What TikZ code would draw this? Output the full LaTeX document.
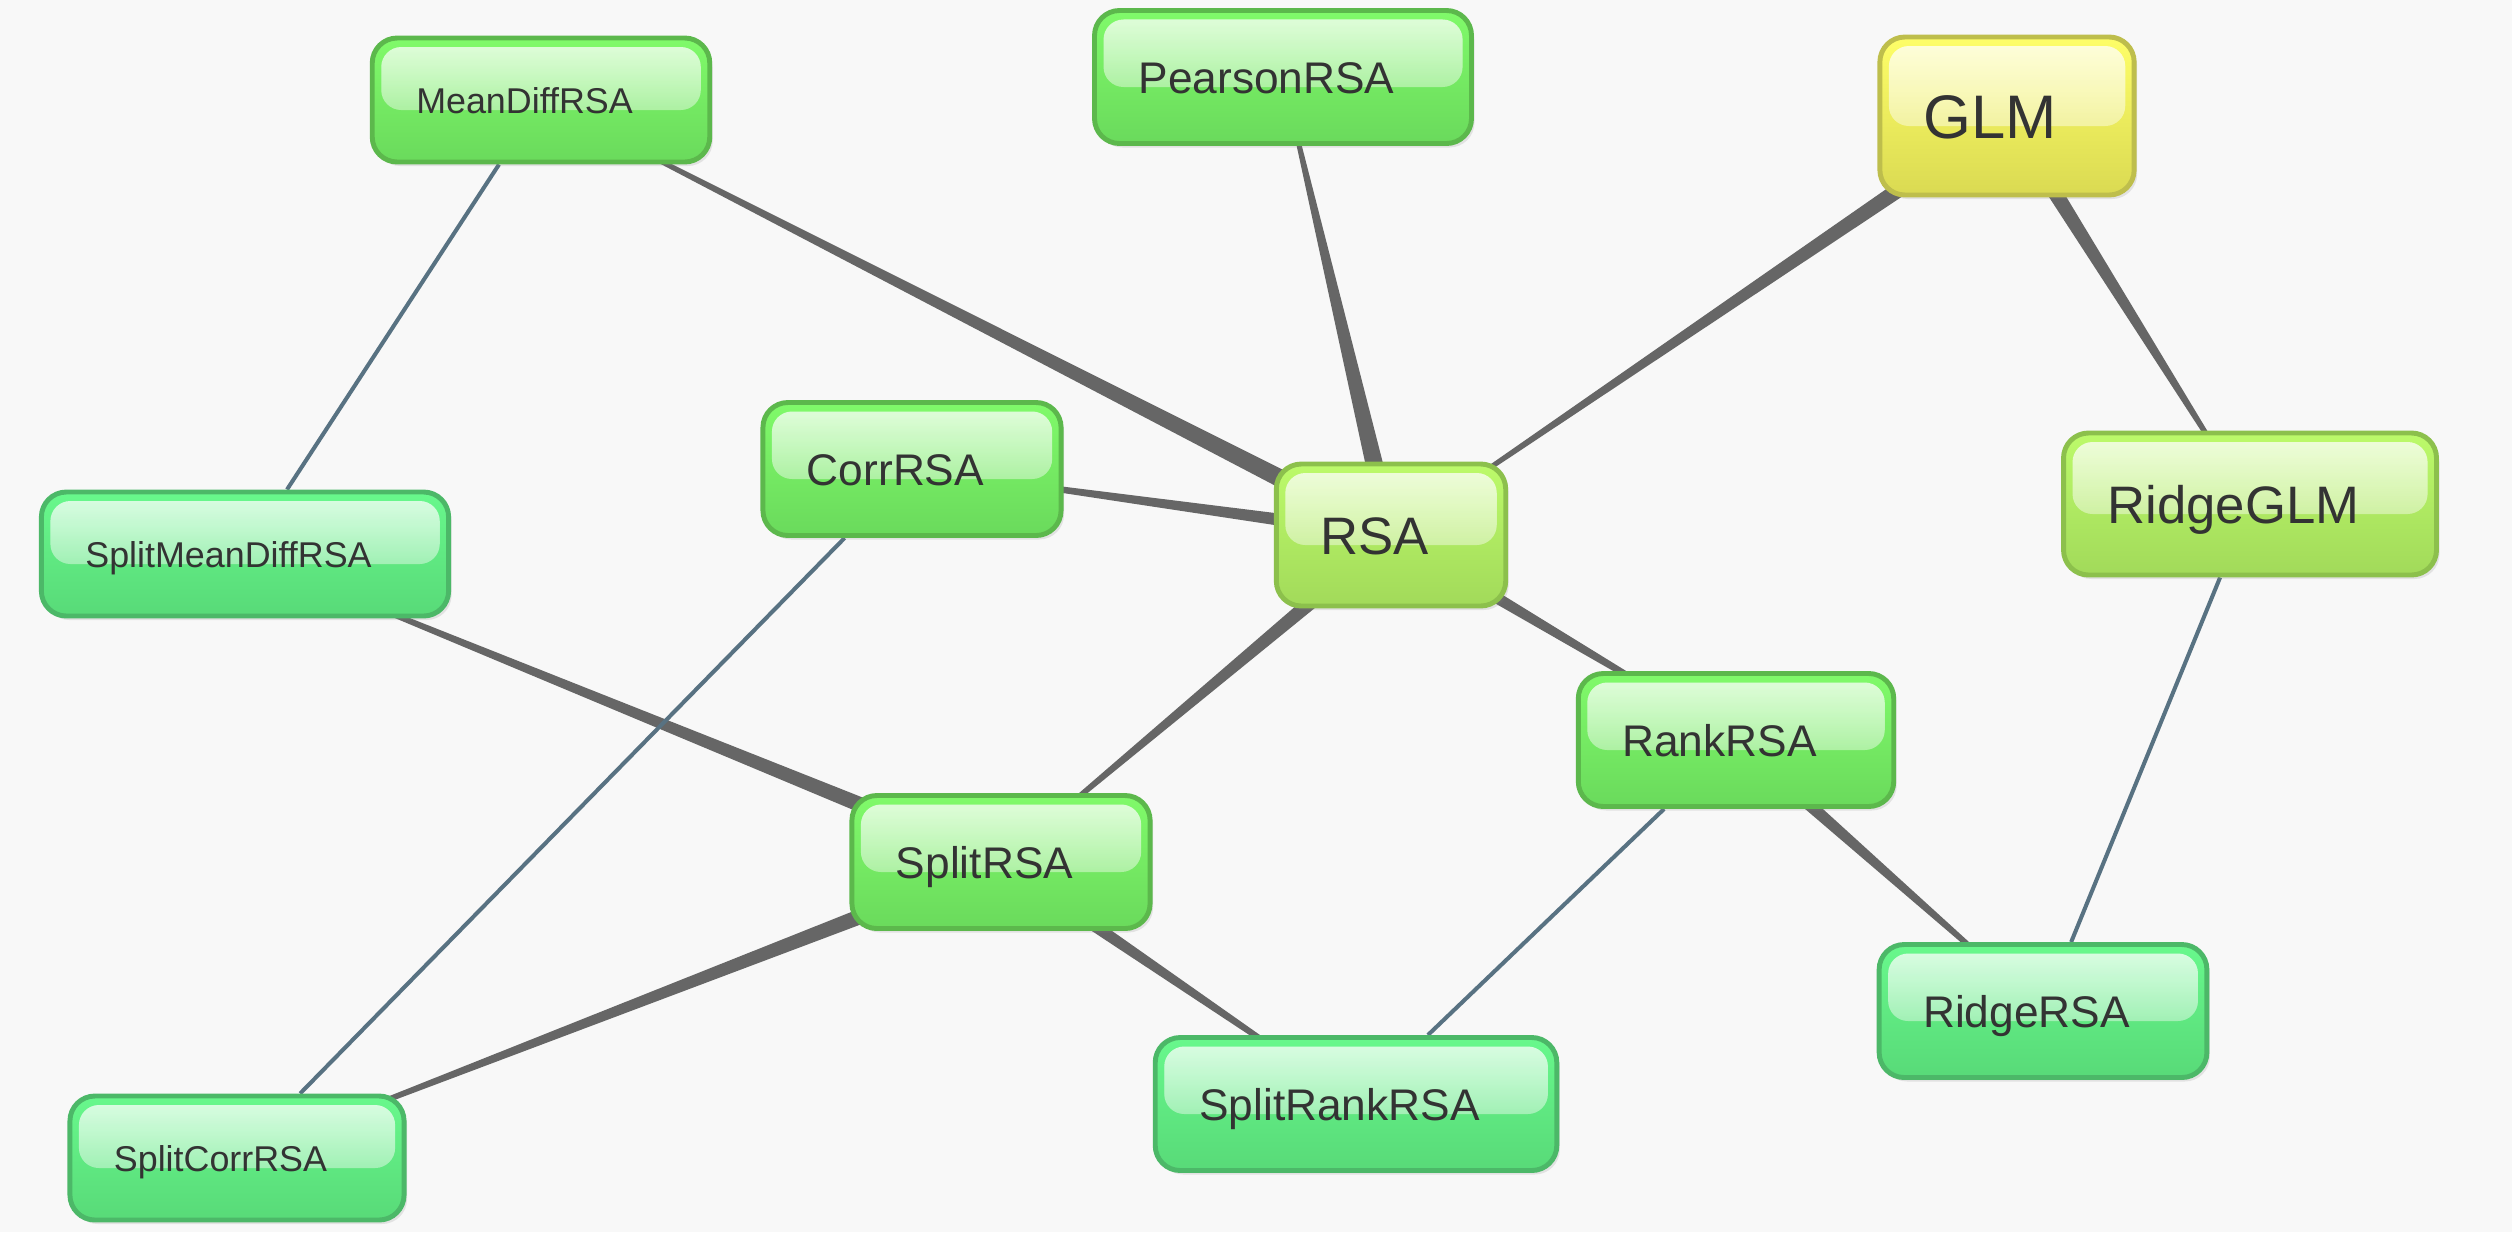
\documentclass[tikz,border=0pt]{standalone}
\usepackage{fontspec}
\setmainfont{Liberation Sans}
\usetikzlibrary{calc,shadows,fadings}
\pgfdeclarelayer{background}
\pgfsetlayers{background,main}
\definecolor{edgegray}{RGB}{102,102,102}
\definecolor{edgeblue}{RGB}{88,114,130}
\definecolor{txt}{RGB}{51,51,51}
\definecolor{paper}{RGB}{248,248,248}
\definecolor{grnline}{RGB}{92,184,76}
\definecolor{grnbody}{RGB}{128,250,106}
\definecolor{grnbot}{RGB}{106,218,92}
\definecolor{tealline}{RGB}{76,184,104}
\definecolor{tealbody}{RGB}{104,248,140}
\definecolor{tealbot}{RGB}{88,218,120}
\definecolor{limeline}{RGB}{140,192,76}
\definecolor{limebody}{RGB}{188,250,106}
\definecolor{limebot}{RGB}{162,218,90}
\definecolor{yelline}{RGB}{190,190,76}
\definecolor{yelbody}{RGB}{254,254,104}
\definecolor{yelbot}{RGB}{218,218,82}

\newcommand\taper[3]{% thin end, thick end, half width
  \fill[edgegray] ($(#1.center)!0.012cm!-90:(#2.center)$) -- ($(#2.center)!#3!90:(#1.center)$)
    -- ($(#2.center)!#3!-90:(#1.center)$) -- ($(#1.center)!0.012cm!90:(#2.center)$) -- cycle;}

\tikzset{
  pill/.style n args={3}{draw=#1, line width=1.4pt, rounded corners=0.25cm,
    top color=#2, bottom color=#3, text=txt, align=left,
    inner xsep=0.44cm, inner ysep=0pt, text depth=0pt,
    execute at end node={\hspace*{0.33cm}},
    drop shadow={opacity=0.18, shadow xshift=0.03cm, shadow yshift=-0.04cm},
    path picture={
      \fill[rounded corners=0.2cm, white, fill opacity=0.75, path fading=south]
        ($(path picture bounding box.north west)+(0.09,-0.09)$) rectangle
        ($(path picture bounding box.east)+(-0.09,-0.1)$);
      \fill[rounded corners=0.2cm, white, fill opacity=0.15]
        ($(path picture bounding box.north west)+(0.09,-0.09)$) rectangle
        ($(path picture bounding box.east)+(-0.09,-0.1)$);}},
  greennode/.style={pill={grnline}{grnbody}{grnbot}},
  tealnode/.style={pill={tealline}{tealbody}{tealbot}},
  limenode/.style={pill={limeline}{limebody}{limebot}},
  yellownode/.style={pill={yelline}{yelbody}{yelbot}},
  small/.style={font=\fontsize{10.2}{12}\selectfont, text height=0.26cm, minimum height=1.24cm},
  mid/.style={font=\fontsize{12.6}{15}\selectfont, text height=0.32cm, minimum height=1.33cm},
  large/.style={font=\fontsize{15}{18}\selectfont, text height=0.38cm, minimum height=1.42cm},
  huge/.style={font=\fontsize{17.5}{21}\selectfont, text height=0.45cm, minimum height=1.58cm},
  plain/.style={edgeblue, line width=1.15pt}
}

\begin{document}
\begin{tikzpicture}
\useasboundingbox (0,0) rectangle (25.12,-12.32);
  \node[greennode,small] (meandiff)      at (5.41,-1.00)  {MeanDiffRSA};
  \node[greennode,mid]   (pearson)       at (12.83,-0.77) {PearsonRSA};
  \node[yellownode,huge] (glm)           at (20.07,-1.16) {GLM};
  \node[greennode,mid]   (corr)          at (9.12,-4.69)  {CorrRSA};
  \node[tealnode,small]  (splitmeandiff) at (2.45,-5.54)  {SplitMeanDiffRSA};
  \node[limenode,large]  (rsa)           at (13.91,-5.35) {RSA};
  \node[limenode,large]  (ridgeglm)      at (22.50,-5.04) {RidgeGLM};
  \node[greennode,mid]   (rank)          at (17.36,-7.40) {RankRSA};
  \node[greennode,mid]   (splitrsa)      at (10.01,-8.62) {SplitRSA};
  \node[tealnode,mid]    (ridgersa)      at (20.43,-10.11) {RidgeRSA};
  \node[tealnode,mid]    (splitrank)     at (13.56,-11.04) {SplitRankRSA};
  \node[tealnode,small]  (splitcorr)     at (2.37,-11.58) {SplitCorrRSA};
\begin{pgfonlayer}{background}
  \fill[paper] (0,0) rectangle (25.12,-12.32);
  \taper{meandiff}{rsa}{0.1cm}
  \taper{pearson}{rsa}{0.1cm}
  \taper{rsa}{glm}{0.09cm}
  \taper{ridgeglm}{glm}{0.09cm}
  \taper{corr}{rsa}{0.075cm}
  \taper{splitmeandiff}{splitrsa}{0.09cm}
  \taper{splitrsa}{rsa}{0.085cm}
  \taper{rank}{rsa}{0.075cm}
  \taper{splitcorr}{splitrsa}{0.09cm}
  \taper{splitrank}{splitrsa}{0.075cm}
  \taper{ridgersa}{rank}{0.075cm}
  \draw[plain] (meandiff) -- (splitmeandiff)
               (corr) -- (splitcorr)
               (rank) -- (splitrank)
               (ridgeglm) -- (ridgersa);
\end{pgfonlayer}
\end{tikzpicture}
\end{document}
